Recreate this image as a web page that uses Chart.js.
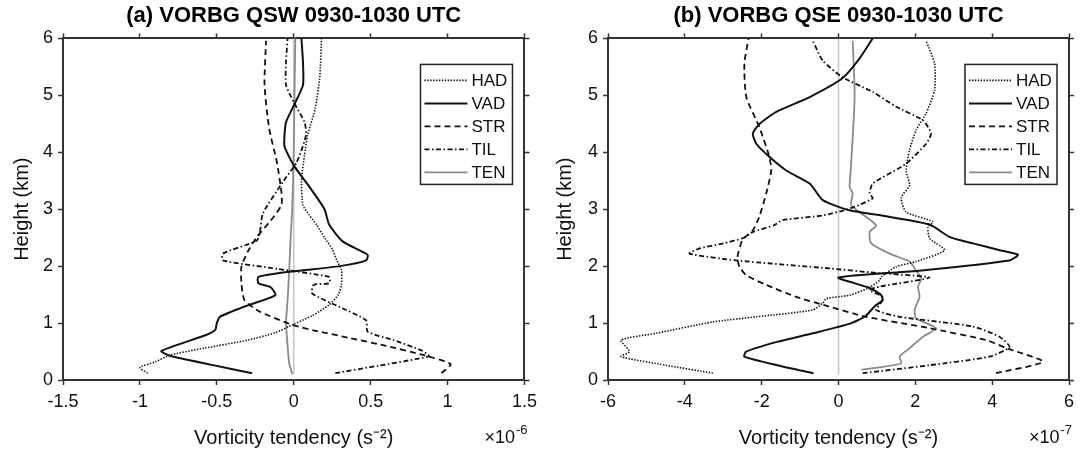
<!DOCTYPE html>
<html>
<head>
<meta charset="utf-8">
<script src="https://cdn.jsdelivr.net/npm/chart.js@4.4.1/dist/chart.umd.min.js"></script>
<style>
  html, body { margin: 0; padding: 0; background: #fff; }
  #wrap { position: relative; width: 1086px; height: 450px; overflow: hidden; }
  .panel { position: absolute; top: 0; width: 543px; height: 450px; }
</style>
</head>
<body>
<div id="wrap">
  <div class="panel" style="left:0"><canvas id="chartA" width="543" height="450"></canvas></div>
  <div class="panel" style="left:543px"><canvas id="chartB" width="543" height="450"></canvas></div>
</div>
<script>
// vorticity budget profiles, [value, height km]; panel a in 1e-6 s^-2, panel b in 1e-7 s^-2
const seriesNames = ['HAD', 'VAD', 'STR', 'TIL', 'TEN'];
const heightTicks = [0, 1, 2, 3, 4, 5, 6];
const xTicksA = [-1.5, -1, -0.5, 0, 0.5, 1, 1.5];
const xTicksB = [-6, -4, -2, 0, 2, 4, 6];

const hadA = [[-0.95,0.12],[-1.0,0.22],[-0.9,0.32],[-0.8,0.44],[-0.58,0.56],[-0.3,0.7],[-0.12,0.83],[0.0,0.98],[0.12,1.13],[0.23,1.32],[0.29,1.5],[0.31,1.67],[0.31,1.93],[0.28,2.1],[0.25,2.3],[0.2,2.5],[0.15,2.72],[0.1,2.9],[0.06,3.07],[0.05,3.5],[0.07,3.95],[0.09,4.3],[0.14,4.77],[0.17,5.35],[0.18,6.0]];
const vadA = [[-0.27,0.12],[-0.54,0.27],[-0.8,0.42],[-0.86,0.51],[-0.57,0.79],[-0.51,0.88],[-0.5,1.0],[-0.48,1.11],[-0.29,1.32],[-0.12,1.49],[-0.15,1.63],[-0.23,1.7],[-0.23,1.81],[-0.03,1.9],[0.3,2.0],[0.47,2.1],[0.48,2.2],[0.32,2.43],[0.23,2.73],[0.2,3.0],[0.1,3.4],[0.0,3.77],[-0.06,4.1],[-0.06,4.3],[-0.05,4.53],[0.0,4.82],[0.06,5.18],[0.06,5.58],[0.05,6.0]];
const strA = [[0.96,0.12],[1.02,0.28],[0.84,0.44],[0.6,0.6],[0.36,0.74],[0.15,0.86],[0.0,0.96],[-0.22,1.2],[-0.32,1.4],[-0.34,1.7],[-0.34,1.99],[-0.3,2.25],[-0.24,2.51],[-0.15,2.8],[-0.08,3.07],[-0.08,3.3],[-0.11,3.83],[-0.16,4.42],[-0.19,5.18],[-0.18,5.96]];
const tilA = [[0.27,0.12],[0.55,0.25],[0.8,0.37],[0.88,0.42],[0.83,0.52],[0.65,0.7],[0.48,0.85],[0.47,1.05],[0.3,1.28],[0.12,1.52],[0.13,1.67],[0.23,1.7],[0.23,1.81],[-0.1,1.95],[-0.46,2.1],[-0.46,2.22],[-0.24,2.45],[-0.22,2.6],[-0.2,2.93],[-0.07,3.48],[0.02,3.83],[0.08,4.3],[0.07,4.53],[0.0,4.88],[-0.05,5.18],[-0.05,5.6],[-0.04,6.0]];
const tenA = [[-0.01,0.1],[-0.03,0.3],[-0.04,0.6],[-0.05,1.0],[-0.04,1.4],[-0.03,1.9],[-0.02,2.5],[-0.01,3.0],[0.0,4.0],[0.005,5.0],[0.01,6.0]];

const hadB = [[-3.27,0.12],[-4.5,0.26],[-5.66,0.41],[-5.44,0.5],[-5.66,0.7],[-4.75,0.82],[-3.27,1.02],[-2.14,1.11],[-0.67,1.23],[-0.41,1.35],[-0.32,1.43],[0.29,1.49],[0.76,1.61],[1.07,1.75],[1.11,1.81],[1.5,1.99],[2.02,2.08],[2.76,2.28],[2.37,2.49],[2.33,2.69],[2.46,2.78],[1.76,2.95],[1.63,3.2],[1.85,3.42],[1.76,3.68],[1.85,4.04],[2.02,4.39],[2.28,4.68],[2.5,5.09],[2.5,5.56],[2.28,5.96]];
const vadB = [[-0.65,0.12],[-1.6,0.26],[-2.45,0.41],[-2.4,0.5],[-1.6,0.67],[-0.67,0.82],[0.3,0.99],[0.7,1.12],[0.95,1.3],[1.15,1.4],[1.1,1.5],[0.8,1.62],[0.0,1.8],[2.1,1.92],[4.45,2.1],[4.67,2.2],[4.2,2.28],[3.5,2.4],[2.9,2.51],[2.37,2.73],[1.2,2.88],[0.29,2.98],[-0.41,3.16],[-0.75,3.45],[-1.36,3.68],[-1.8,3.92],[-2.14,4.15],[-2.23,4.33],[-2.05,4.5],[-1.62,4.71],[-0.75,4.97],[0.1,5.3],[0.55,5.65],[0.89,6.0]];
const strB = [[4.1,0.12],[5.32,0.32],[4.37,0.56],[3.85,0.7],[2.37,0.91],[0.72,1.11],[-0.3,1.3],[-1.1,1.46],[-1.88,1.67],[-2.4,1.84],[-2.58,1.99],[-2.63,2.16],[-2.5,2.46],[-2.23,2.63],[-2.06,2.87],[-1.88,3.28],[-1.75,3.68],[-1.8,3.92],[-2.06,4.44],[-2.4,4.97],[-2.45,5.56],[-2.34,6.0]];
const tilB = [[0.63,0.12],[2.37,0.26],[3.93,0.41],[4.45,0.58],[4.19,0.76],[3.5,0.94],[1.59,1.11],[0.98,1.23],[1.1,1.35],[1.15,1.46],[0.81,1.58],[1.07,1.64],[2.37,1.8],[1.0,1.88],[-0.23,1.96],[-2.66,2.1],[-3.88,2.22],[-3.62,2.31],[-3.0,2.4],[-2.5,2.49],[-2.23,2.6],[-1.67,2.72],[-1.45,2.81],[-0.41,2.89],[0.29,3.01],[0.89,3.19],[0.81,3.28],[0.89,3.45],[1.76,3.8],[2.28,4.15],[2.41,4.33],[2.2,4.56],[1.5,4.8],[0.89,5.06],[0.1,5.32],[-0.41,5.61],[-0.67,5.96]];
const tenB = [[0.6,0.18],[1.63,0.29],[1.59,0.41],[1.85,0.56],[2.2,0.76],[2.54,0.91],[2.02,1.08],[1.98,1.23],[2.11,1.46],[2.07,1.64],[2.15,1.78],[1.98,1.96],[1.85,2.08],[1.33,2.22],[0.85,2.4],[0.81,2.6],[0.98,2.72],[0.33,3.07],[0.37,3.28],[0.29,3.39],[0.33,3.8],[0.42,4.97],[0.37,5.96]];

const zeroLine = [[0, 0.1], [0, 6]];

const FONT = "'Liberation Sans', Arial, Helvetica, sans-serif";
Chart.defaults.font.family = FONT;
Chart.defaults.color = '#111';

const styles = {
  HAD: { color: '#111', width: 1.6, dash: [1.4, 1.5] },
  VAD: { color: '#111', width: 2, dash: [] },
  STR: { color: '#111', width: 1.8, dash: [6, 4] },
  TIL: { color: '#111', width: 1.8, dash: [5, 2.5, 1.5, 2.5] },
  TEN: { color: '#8a8a8a', width: 1.8, dash: [] }
};

function toPoints(arr) {
  return arr.map(p => ({ x: p[0], y: p[1] }));
}

function buildDatasets(series) {
  const sets = seriesNames.map((name, i) => ({
    label: name,
    data: toPoints(series[i]),
    borderColor: styles[name].color,
    borderWidth: styles[name].width,
    borderDash: styles[name].dash,
    tension: 0.2,
    order: i + 1
  }));
  sets.push({
    label: 'zero',
    data: toPoints(zeroLine),
    borderColor: '#c8c8c8',
    borderWidth: 1.6,
    order: 20
  });
  return sets;
}

// boxed legend inside the upper right of the plot area
const boxLegend = {
  id: 'boxLegend',
  afterDraw(chart) {
    const a = chart.chartArea, ctx = chart.ctx;
    const w = 92, h = 120;
    const left = a.right - 12 - w, top = a.top + 26;
    ctx.save();
    ctx.setLineDash([]);
    ctx.fillStyle = '#fff';
    ctx.fillRect(left, top, w, h);
    ctx.strokeStyle = '#222';
    ctx.lineWidth = 1.5;
    ctx.strokeRect(left, top, w, h);
    ctx.font = '17px ' + FONT;
    ctx.textBaseline = 'middle';
    seriesNames.forEach((name, i) => {
      const y = top + 16 + i * 23;
      const st = styles[name];
      ctx.beginPath();
      ctx.setLineDash(st.dash);
      ctx.strokeStyle = st.color;
      ctx.lineWidth = st.width;
      ctx.moveTo(left + 4, y);
      ctx.lineTo(left + 47, y);
      ctx.stroke();
      ctx.setLineDash([]);
      ctx.fillStyle = '#111';
      ctx.fillText(name, left + 51, y + 1);
    });
    ctx.restore();
  }
};

// x10^n multiplier under the right end of the x axis
const axisExponent = {
  id: 'axisExponent',
  afterDraw(chart, args, opts) {
    const a = chart.chartArea, ctx = chart.ctx;
    ctx.save();
    ctx.fillStyle = '#111';
    ctx.textBaseline = 'middle';
    ctx.font = '13px ' + FONT;
    const expW = ctx.measureText(opts.exp).width;
    const right = a.right + 3;
    ctx.textAlign = 'left';
    ctx.fillText(opts.exp, right - expW, 430);
    ctx.font = '18px ' + FONT;
    ctx.textAlign = 'right';
    ctx.fillText('\u00d710', right - expW - 1, 438);
    ctx.restore();
  }
};

function scalesFor(xTicks, leftW, rightW) {
  const tickGrid = { display: true, drawOnChartArea: false, drawTicks: true, tickLength: 5, tickWidth: 1.5, tickColor: '#333' };
  const border = { display: true, color: '#333', width: 2 };
  const xRange = { type: 'linear', min: xTicks[0], max: xTicks[xTicks.length - 1],
    afterBuildTicks: s => { s.ticks = xTicks.map(v => ({ value: v })); } };
  const yRange = { type: 'linear', min: heightTicks[0], max: heightTicks[heightTicks.length - 1],
    afterBuildTicks: s => { s.ticks = heightTicks.map(v => ({ value: v })); } };
  return {
    x: Object.assign({}, xRange, {
      position: 'bottom',
      ticks: { font: { size: 18 }, color: '#111', padding: 6, maxRotation: 0, autoSkip: false, callback: v => String(v) },
      grid: tickGrid, border,
      title: { display: true, text: 'Vorticity tendency (s\u207b\u00b2)', font: { size: 20 }, color: '#111', padding: { top: 0, bottom: 0 } },
      afterFit: s => { s.height = 70; }
    }),
    x2: Object.assign({}, xRange, {
      position: 'top',
      ticks: { display: false },
      grid: tickGrid, border,
      afterFit: s => { s.height = 6; }
    }),
    y: Object.assign({}, yRange, {
      position: 'left',
      ticks: { font: { size: 18 }, color: '#111', padding: 5, autoSkip: false, callback: v => String(v) },
      grid: tickGrid, border,
      title: { display: true, text: 'Height (km)', font: { size: 20 }, color: '#111', padding: { top: 10, bottom: 0 } },
      afterFit: s => { s.width = leftW; }
    }),
    y2: Object.assign({}, yRange, {
      position: 'right',
      ticks: { display: false },
      grid: tickGrid, border,
      afterFit: s => { s.width = rightW; }
    })
  };
}

function makeChart(id, titleText, series, xTicks, exp, leftW, rightW) {
  return new Chart(document.getElementById(id), {
    type: 'scatter',
    data: { datasets: buildDatasets(series) },
    options: {
      responsive: false,
      animation: false,
      devicePixelRatio: 1,
      layout: { padding: 0 },
      showLine: true,
      elements: { point: { radius: 0, hoverRadius: 0 }, line: { fill: false } },
      plugins: {
        legend: { display: false },
        tooltip: { enabled: false },
        title: { display: true, text: titleText, fullSize: false, color: '#000',
                 font: { size: 22, weight: 'bold' }, padding: { top: 3, bottom: 3 } },
        axisExponent: { exp: exp }
      },
      scales: scalesFor(xTicks, leftW, rightW)
    },
    plugins: [boxLegend, axisExponent]
  });
}

makeChart('chartA', '(a) VORBG QSW 0930-1030 UTC', [hadA, vadA, strA, tilA, tenA], xTicksA, '-6', 63, 18);
makeChart('chartB', '(b) VORBG QSE 0930-1030 UTC', [hadB, vadB, strB, tilB, tenB], xTicksB, '-7', 65, 17);
</script>
</body>
</html>
